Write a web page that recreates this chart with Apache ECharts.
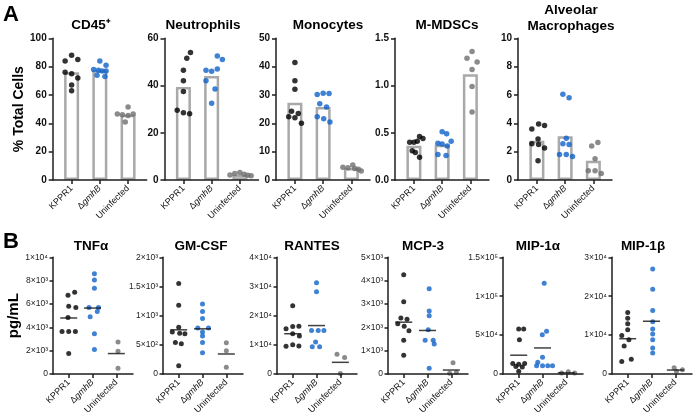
<!DOCTYPE html>
<html><head><meta charset="utf-8">
<script src="https://cdn.jsdelivr.net/npm/echarts@6/dist/echarts.min.js"></script>
<style>html,body{margin:0;padding:0;background:#fff}#c{width:696px;height:419px}</style>
</head><body><div id="c"></div>
<script>
// ---------- categories ----------
const groups = ['KPPR1', 'ΔgmhB', 'Uninfected'];

// ---------- Panel A (% total cells), bars = group means ----------
const cd45_kppr1 = [88, 84, 85, 76, 75, 72, 67, 63];
const cd45_gmhb  = [84, 81, 78, 77.5, 77, 77, 74, 73];
const cd45_uninf = [51.5, 46.5, 46, 45.5, 46.5, 41];
const cd45_bars  = [76, 77.5, 46];
const cd45_kppr1_dx = [0, -0.23, 0.22, -0.23, 0, 0.22, 0, 0];
const cd45_gmhb_dx  = [0, 0.22, -0.22, -0.05, 0.08, 0.22, -0.1, 0.18];
const cd45_uninf_dx = [0, -0.38, -0.2, 0, 0.18, -0.1];

const neut_kppr1 = [54, 51.5, 46.5, 42, 37.5, 29.5, 28.5, 28];
const neut_gmhb  = [52.5, 51, 46.5, 47, 46, 42, 38.5, 32.5];
const neut_uninf = [2.1, 2.8, 3.2, 2.4, 2.0, 1.8];
const neut_bars  = [39.4, 44, 2.2];
const neut_kppr1_dx = [0.25, 0.12, 0, 0, 0, -0.22, 0, 0.22];
const neut_gmhb_dx  = [0.2, 0.38, -0.2, 0.2, 0, -0.2, 0.12, 0];
const neut_uninf_dx = [-0.35, -0.18, 0, 0.15, 0.28, 0.4];

const mono_kppr1 = [41.5, 35, 32, 24.3, 23.5, 22.3, 22, 20];
const mono_gmhb  = [30.2, 30.6, 30.5, 26.9, 25.8, 22.3, 21.6, 20.5];
const mono_uninf = [5.3, 4.5, 4.3, 4.1, 3.8, 3.2];
const mono_bars  = [27.3, 25.8, 4.2];
const mono_kppr1_dx = [0, 0, 0, -0.12, 0.12, -0.22, 0, 0.23];
const mono_gmhb_dx  = [-0.21, 0, 0.21, -0.12, 0.12, -0.21, 0.02, 0.24];
const mono_uninf_dx = [0.05, -0.3, -0.12, 0.12, 0.25, 0.35];

const mdsc_kppr1 = [0.40, 0.40, 0.41, 0.46, 0.44, 0.31, 0.29, 0.24];
const mdsc_gmhb  = [0.51, 0.49, 0.39, 0.38, 0.41, 0.36, 0.27, 0.26];
const mdsc_uninf = [1.36, 1.29, 1.25, 1.17, 0.99, 0.72];
const mdsc_bars  = [0.363, 0.374, 1.12];
const mdsc_kppr1_dx = [-0.15, 0, 0.12, 0.2, 0.32, -0.06, 0.05, 0.2];
const mdsc_gmhb_dx  = [0, 0.16, -0.15, 0, 0.32, 0.18, -0.15, 0.14];
const mdsc_uninf_dx = [0.06, -0.12, 0.24, 0.06, 0.06, 0.06];

const alv_kppr1 = [3.6, 3.95, 3.85, 2.9, 2.55, 2.5, 2.25, 1.35];
const alv_gmhb  = [6.05, 5.8, 2.95, 2.55, 2.5, 1.8, 1.8, 1.65];
const alv_uninf = [2.4, 2.65, 1.5, 0.65, 0.65, 0.45];
const alv_bars  = [2.77, 3.08, 1.35];
const alv_kppr1_dx = [-0.18, 0.06, 0.27, 0.04, -0.18, 0.06, 0.27, 0.04];
const alv_gmhb_dx  = [-0.08, 0.14, 0.04, -0.08, 0.14, -0.2, 0.04, 0.26];
const alv_uninf_dx = [-0.06, 0.16, 0.06, -0.18, 0.06, 0.28];

// ---------- Panel B (pg/mL), lines = group means ----------
const tnf_kppr1 = [7000, 6750, 5800, 5700, 4850, 3650, 3650, 3650, 1750];
const tnf_gmhb  = [8600, 8050, 7350, 5700, 5700, 5350, 4900, 3450, 2100];
const tnf_uninf = [2750, 1950, 500];
const tnf_means = [4800, 5650, 1750];
const tnf_kppr1_dx = [0.25, -0.03, 0, 0.3, -0.03, -0.28, 0, 0.28, 0];
const tnf_gmhb_dx  = [0.08, 0.08, 0.08, -0.15, 0.25, 0.2, -0.1, 0.08, 0.08];
const tnf_uninf_dx = [0.07, 0.07, 0.07];

const gm_kppr1 = [1550, 1180, 800, 720, 700, 690, 540, 520, 140];
const gm_gmhb  = [1200, 1070, 950, 790, 790, 720, 650, 540, 365];
const gm_uninf = [537, 400, 115];
const gm_means = [757, 774, 343];
const gm_kppr1_dx = [0, 0, 0, -0.27, 0.04, 0.26, -0.14, 0.11, 0];
const gm_gmhb_dx  = [0, 0, 0, -0.2, 0.25, 0, 0, 0, 0];
const gm_uninf_dx = [0, 0, 0];

const rantes_kppr1 = [23400, 16300, 16400, 15500, 13800, 13000, 9500, 10000, 9600];
const rantes_gmhb  = [31300, 28200, 14900, 14900, 14900, 11000, 9300, 9300];
const rantes_uninf = [6800, 5650, 200];
const rantes_means = [13800, 16600, 4000];
const rantes_kppr1_dx = [0, 0, 0.26, -0.28, 0, 0.28, -0.28, 0, 0.26];
const rantes_gmhb_dx  = [0, 0, -0.21, 0.07, 0.31, -0.04, -0.18, 0.13];
const rantes_uninf_dx = [-0.14, 0.18, 0];

const mcp_kppr1 = [4250, 3100, 2400, 2350, 2150, 2050, 1850, 1450, 800];
const mcp_gmhb  = [3650, 2700, 2500, 1900, 1450, 1450, 1280, 250];
const mcp_uninf = [480, 30, 60];
const mcp_means = [2220, 1865, 170];
const mcp_kppr1_dx = [0, 0, -0.12, 0.14, -0.25, 0.02, 0.22, 0, 0];
const mcp_gmhb_dx  = [0.07, 0.07, 0.07, 0.03, -0.1, 0.24, 0.28, 0.07];
const mcp_uninf_dx = [0.07, -0.07, 0.21];

const mip1a_kppr1 = [58000, 58000, 44000, 13500, 12500, 13500, 9500, 9000, 3500];
const mip1a_gmhb  = [116500, 55000, 50500, 21500, 15000, 10500, 10500, 10500, 10500];
const mip1a_uninf = [1200, 2800, 1200];
const mip1a_means = [24150, 33500, 1500];
const mip1a_kppr1_dx = [0, 0.21, 0.03, -0.25, 0, 0.25, -0.12, 0.15, 0];
const mip1a_gmhb_dx  = [0.07, 0.17, -0.01, 0, -0.2, -0.25, 0, 0.22, 0.42];
const mip1a_uninf_dx = [-0.2, 0.08, 0.35];

const mip1b_kppr1 = [15800, 14300, 12900, 11400, 9900, 8800, 7200, 3800, 3200];
const mip1b_gmhb  = [27000, 21800, 16300, 13400, 11600, 10300, 8800, 6700, 5400];
const mip1b_uninf = [1600, 700, 1100];
const mip1b_means = [9070, 13560, 1020];
const mip1b_kppr1_dx = [0, 0, 0, 0, -0.25, 0.05, -0.15, 0.15, -0.25];
const mip1b_gmhb_dx  = [0.05, 0.05, 0.05, 0.05, 0.05, 0.05, 0.05, 0.05, 0.05];
const mip1b_uninf_dx = [-0.05, 0.05, 0.3];

// ---------- build ----------
const FONT = 'Liberation Sans, Arial, Helvetica, sans-serif';
const groupColors = ['#000000', '#0f62c8', '#6e6e6e'];
const SUP = {'0':'⁰','1':'¹','2':'²','3':'³','4':'⁴','5':'⁵','6':'⁶','7':'⁷','8':'⁸','9':'⁹'};
function sci(v){
  if (v === 0) return '0';
  const e = Math.floor(Math.log10(v) + 1e-9);
  const m = +(v / Math.pow(10, e)).toFixed(1);
  return m + '×10' + String(e).split('').map(c => SUP[c]).join('');
}

const panelsA = [
  {title:['CD45⁺'], tx:91, left:52.7, max:100, interval:20, dec:0, pts:[cd45_kppr1, cd45_gmhb, cd45_uninf], dx:[cd45_kppr1_dx, cd45_gmhb_dx, cd45_uninf_dx], bars:cd45_bars, name:'% Total Cells'},
  {title:['Neutrophils'], tx:203, left:164.5, max:60, interval:20, dec:0, pts:[neut_kppr1, neut_gmhb, neut_uninf], dx:[neut_kppr1_dx, neut_gmhb_dx, neut_uninf_dx], bars:neut_bars},
  {title:['Monocytes'], tx:328, left:276, max:50, interval:10, dec:0, pts:[mono_kppr1, mono_gmhb, mono_uninf], dx:[mono_kppr1_dx, mono_gmhb_dx, mono_uninf_dx], bars:mono_bars},
  {title:['M-MDSCs'], tx:447, left:395, max:1.5, interval:0.5, dec:1, pts:[mdsc_kppr1, mdsc_gmhb, mdsc_uninf], dx:[mdsc_kppr1_dx, mdsc_gmhb_dx, mdsc_uninf_dx], bars:mdsc_bars},
  {title:['Alveolar','Macrophages'], tx:571, left:518, max:10, interval:2, dec:0, pts:[alv_kppr1, alv_gmhb, alv_uninf], dx:[alv_kppr1_dx, alv_gmhb_dx, alv_uninf_dx], bars:alv_bars}
];
const panelsB = [
  {title:'TNFα', tx:91, left:53, max:10000, interval:2000, pts:[tnf_kppr1, tnf_gmhb, tnf_uninf], dx:[tnf_kppr1_dx, tnf_gmhb_dx, tnf_uninf_dx], means:tnf_means, name:'pg/mL'},
  {title:'GM-CSF', tx:201, left:163, max:2000, interval:500, pts:[gm_kppr1, gm_gmhb, gm_uninf], dx:[gm_kppr1_dx, gm_gmhb_dx, gm_uninf_dx], means:gm_means},
  {title:'RANTES', tx:312, left:277, max:40000, interval:10000, pts:[rantes_kppr1, rantes_gmhb, rantes_uninf], dx:[rantes_kppr1_dx, rantes_gmhb_dx, rantes_uninf_dx], means:rantes_means},
  {title:'MCP-3', tx:423, left:388, max:5000, interval:1000, pts:[mcp_kppr1, mcp_gmhb, mcp_uninf], dx:[mcp_kppr1_dx, mcp_gmhb_dx, mcp_uninf_dx], means:mcp_means},
  {title:'MIP-1α', tx:538, left:503, max:150000, interval:50000, pts:[mip1a_kppr1, mip1a_gmhb, mip1a_uninf], dx:[mip1a_kppr1_dx, mip1a_gmhb_dx, mip1a_uninf_dx], means:mip1a_means},
  {title:'MIP-1β', tx:643, left:612, max:30000, interval:10000, pts:[mip1b_kppr1, mip1b_gmhb, mip1b_uninf], dx:[mip1b_kppr1_dx, mip1b_gmhb_dx, mip1b_uninf_dx], means:mip1b_means}
];

const grid = [], xAxis = [], yAxis = [], series = [], graphic = [];
const AX = '#1e1e1e';
function xLabelFmt(v){ const i = Math.round(v); return i === 1 ? '{n|Δ}{i|gmhB}' : '{n|' + groups[i] + '}'; }
function addX(gi, min, max){
  xAxis.push({gridIndex:gi, type:'value', min:min, max:max, z:5,
    axisLine:{show:true, onZero:false, lineStyle:{color:AX, width:1.5}},
    splitLine:{show:false},
    axisTick:{show:true, customValues:[0,1,2], length:4, lineStyle:{color:AX, width:1.5}},
    axisLabel:{show:true, customValues:[0,1,2], rotate:45, margin:7, formatter:xLabelFmt,
      rich:{n:{fontSize:9, color:'#111', fontFamily:FONT}, i:{fontSize:9, color:'#111', fontFamily:FONT, fontStyle:'italic'}}}
  });
}

panelsA.forEach((p, k) => {
  const gi = grid.length;
  grid.push({left:p.left, top:38.3, width:94, height:141.7});
  addX(gi, -0.67, 2.66);
  yAxis.push({gridIndex:gi, type:'value', min:0, max:p.max, interval:p.interval, z:5,
    name:p.name || '', nameLocation:'middle', nameGap:27,
    nameTextStyle:{fontSize:14, fontWeight:'bold', color:'#000', fontFamily:FONT},
    axisLine:{show:true, onZero:false, lineStyle:{color:AX, width:1.5}},
    axisTick:{show:true, length:4, lineStyle:{color:AX, width:1.5}},
    splitLine:{show:false},
    axisLabel:{fontSize:10, fontWeight:'bold', color:'#111', fontFamily:FONT, margin:6,
      formatter: v => v.toFixed(p.dec)}
  });
  series.push({type:'bar', xAxisIndex:gi, yAxisIndex:gi, barWidth:15, z:1, silent:true,
    data: p.bars.map((b, g) => [g, b]),
    itemStyle:{color:'#ffffff', borderColor:'#a9a9a9', borderWidth:2.5}});
  p.pts.forEach((arr, g) => {
    series.push({type:'scatter', xAxisIndex:gi, yAxisIndex:gi, symbolSize:5.5, z:3, silent:true,
      itemStyle:{color:groupColors[g]},
      data: arr.map((v, j) => [g + p.dx[g][j], v])});
  });
  p.title.forEach((t, li) => {
    const y = p.title.length === 1 ? 25 : (li === 0 ? 10 : 26);
    graphic.push({type:'text', x:p.tx, y:y, style:{text:t, fill:'#000', font:'bold 13.5px ' + FONT,
      textAlign:'center', textVerticalAlign:'middle', align:'center', verticalAlign:'middle'}});
  });
});

panelsB.forEach((p, k) => {
  const gi = grid.length;
  grid.push({left:p.left, top:257.3, width:80, height:116.7});
  addX(gi, -0.66, 2.7);
  yAxis.push({gridIndex:gi, type:'value', min:0, max:p.max, interval:p.interval, z:5,
    name:p.name || '', nameLocation:'middle', nameGap:24,
    nameTextStyle:{fontSize:15, fontWeight:'bold', color:'#000', fontFamily:FONT},
    axisLine:{show:true, onZero:false, lineStyle:{color:AX, width:1.5}},
    axisTick:{show:true, length:3.5, lineStyle:{color:AX, width:1.5}},
    splitLine:{show:false},
    axisLabel:{fontSize:8.5, color:'#222', fontFamily:FONT, margin:5, formatter: sci}
  });
  p.pts.forEach((arr, g) => {
    series.push({type:'scatter', xAxisIndex:gi, yAxisIndex:gi, symbolSize:5, z:3, silent:true,
      itemStyle:{color:groupColors[g]},
      data: arr.map((v, j) => [g + p.dx[g][j], v])});
  });
  series.push({type:'scatter', xAxisIndex:gi, yAxisIndex:gi, symbol:'rect', symbolSize:[17, 1.5], z:4, silent:true,
    itemStyle:{color:'#111'}, data: p.means.map((m, g) => [g, m])});
  graphic.push({type:'text', x:p.tx, y:246, style:{text:p.title, fill:'#000', font:'bold 13.5px ' + FONT,
    textAlign:'center', textVerticalAlign:'middle', align:'center', verticalAlign:'middle'}});
});

graphic.push({type:'text', x:3, y:15, style:{text:'A', fill:'#000', font:'bold 22px ' + FONT, textVerticalAlign:'middle', verticalAlign:'middle'}});
graphic.push({type:'text', x:3, y:242, style:{text:'B', fill:'#000', font:'bold 22px ' + FONT, textVerticalAlign:'middle', verticalAlign:'middle'}});

const chart = echarts.init(document.getElementById('c'), null, {renderer:'canvas'});
chart.setOption({backgroundColor:'#fff', animation:false, grid, xAxis, yAxis, series, graphic});
</script></body></html>
